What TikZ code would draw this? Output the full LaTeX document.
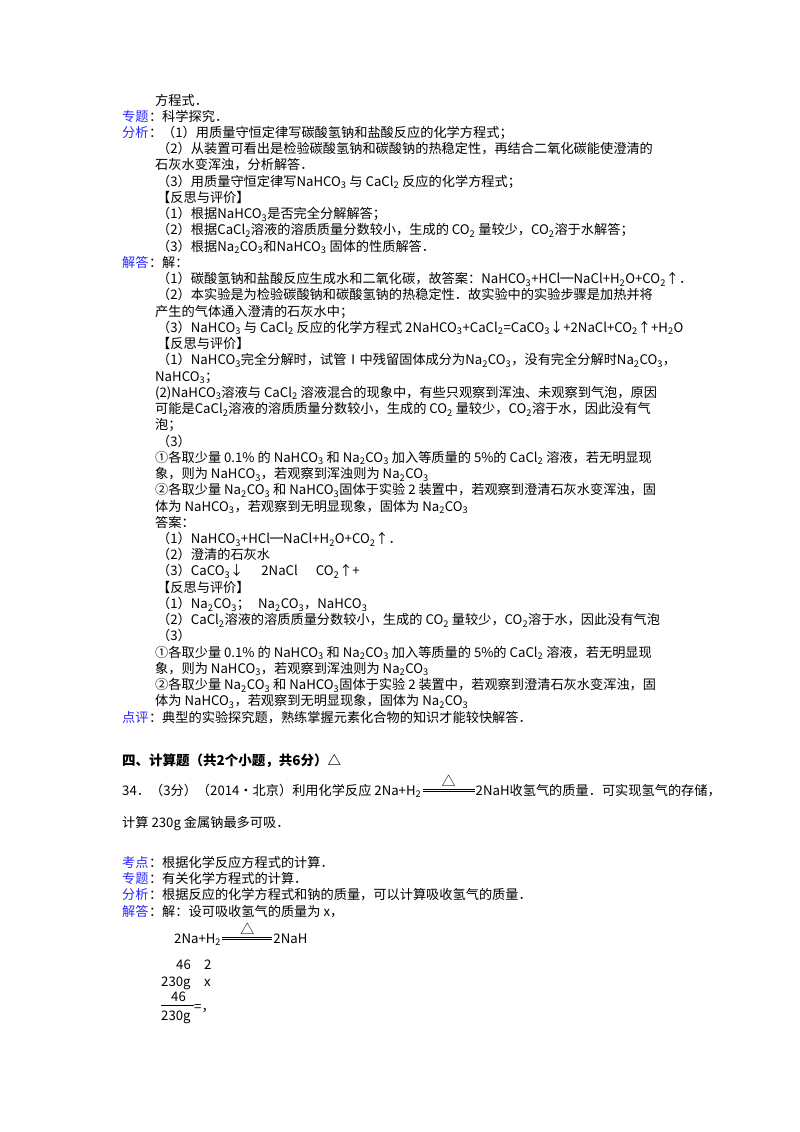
\documentclass[tikz,border=0pt]{standalone}
\usepackage{fontspec}
\usetikzlibrary{calc}
\setmainfont{Noto Sans CJK SC}
\newcommand\s[1]{\textsubscript{#1}}
\definecolor{lab}{RGB}{40,40,255}
\begin{document}
\begin{tikzpicture}[x=1pt,y=-1pt,
  t/.style={anchor=base west,inner sep=0pt,font=\fontsize{13.2}{15}\selectfont},
  lb/.style={t,text=lab},
  eql/.style={line width=0.7pt}]
\useasboundingbox (0,0) rectangle (800,1132);
\def\L#1{\fpeval{101+16.24*#1+4}}
\node[t] (a0) at (155,\L0) {方程式．};
\node[lb] (k1) at (122,\L1) {专题};\node[t] (a1) at (k1.base east) {：科学探究．};
\node[lb] (k2) at (122,\L2) {分析};\node[t] (a2) at (k2.base east) {：（1）用质量守恒定律写碳酸氢钠和盐酸反应的化学方程式；};
\node[t] (a3) at (157,\L3) {（2）从装置可看出是检验碳酸氢钠和碳酸钠的热稳定性，再结合二氧化碳能使澄清的};
\node[t] (a4) at (155,\L4) {石灰水变浑浊，分析解答．};
\node[t] (a5) at (157,\L5) {（3）用质量守恒定律写NaHCO\s3 与 CaCl\s2 反应的化学方程式；};
\node[t] (a6) at (157,\L6) {【反思与评价】};
\node[t] (a7) at (157,\L7) {（1）根据NaHCO\s3是否完全分解解答；};
\node[t] (a8) at (157,\L8) {（2）根据CaCl\s2溶液的溶质质量分数较小，生成的 CO\s2 量较少，CO\s2溶于水解答；};
\node[t] (a9) at (157,\L9) {（3）根据Na\s2CO\s3和NaHCO\s3 固体的性质解答．};
\node[lb] (k10) at (122,\L{10}) {解答};\node[t] (a10) at (k10.base east) {：解：};
\node[t] (a11) at (157,\L{11}) {（1）碳酸氢钠和盐酸反应生成水和二氧化碳，故答案：NaHCO\s3+HCl═NaCl+H\s2O+CO\s2↑．};
\node[t] (a12) at (157,\L{12}) {（2）本实验是为检验碳酸钠和碳酸氢钠的热稳定性．故实验中的实验步骤是加热并将};
\node[t] (a13) at (155,\L{13}) {产生的气体通入澄清的石灰水中；};
\node[t] (a14) at (157,\L{14}) {（3）NaHCO\s3 与 CaCl\s2 反应的化学方程式 2NaHCO\s3+CaCl\s2=CaCO\s3↓+2NaCl+CO\s2↑+H\s2O};
\node[t] (a15) at (157,\L{15}) {【反思与评价】};
\node[t] (a16) at (157,\L{16}) {（1）NaHCO\s3完全分解时，试管Ⅰ中残留固体成分为Na\s2CO\s3，没有完全分解时Na\s2CO\s3，};
\node[t] (a17) at (155,\L{17}) {NaHCO\s3；};
\node[t] (a18) at (155,\L{18}) {(2)NaHCO\s3溶液与 CaCl\s2 溶液混合的现象中，有些只观察到浑浊、未观察到气泡，原因};
\node[t] (a19) at (155,\L{19}) {可能是CaCl\s2溶液的溶质质量分数较小，生成的 CO\s2 量较少，CO\s2溶于水，因此没有气};
\node[t] (a20) at (155,\L{20}) {泡；};
\node[t] (a21) at (157,\L{21}) {（3）};
\node[t] (a22) at (155,\L{22}) {①各取少量 0.1\% 的 NaHCO\s3 和 Na\s2CO\s3 加入等质量的 5\%的 CaCl\s2 溶液，若无明显现};
\node[t] (a23) at (155,\L{23}) {象，则为 NaHCO\s3，若观察到浑浊则为 Na\s2CO\s3};
\node[t] (a24) at (155,\L{24}) {②各取少量 Na\s2CO\s3 和 NaHCO\s3固体于实验 2 装置中，若观察到澄清石灰水变浑浊，固};
\node[t] (a25) at (155,\L{25}) {体为 NaHCO\s3，若观察到无明显现象，固体为 Na\s2CO\s3};
\node[t] (a26) at (155,\L{26}) {答案：};
\node[t] (a27) at (157,\L{27}) {（1）NaHCO\s3+HCl═NaCl+H\s2O+CO\s2↑．};
\node[t] (a28) at (157,\L{28}) {（2）澄清的石灰水};
\node[t] (a29) at (157,\L{29}) {（3）CaCO\s3↓\hspace{18pt}2NaCl\hspace{18pt}CO\s2↑+};
\node[t] (a30) at (157,\L{30}) {【反思与评价】};
\node[t] (a31) at (157,\L{31}) {（1）Na\s2CO\s3；\hspace{8pt}Na\s2CO\s3，NaHCO\s3};
\node[t] (a32) at (157,\L{32}) {（2）CaCl\s2溶液的溶质质量分数较小，生成的 CO\s2 量较少，CO\s2溶于水，因此没有气泡};
\node[t] (a33) at (157,\L{33}) {（3）};
\node[t] (a34) at (155,\L{34}) {①各取少量 0.1\% 的 NaHCO\s3 和 Na\s2CO\s3 加入等质量的 5\%的 CaCl\s2 溶液，若无明显现};
\node[t] (a35) at (155,\L{35}) {象，则为 NaHCO\s3，若观察到浑浊则为 Na\s2CO\s3};
\node[t] (a36) at (155,\L{36}) {②各取少量 Na\s2CO\s3 和 NaHCO\s3固体于实验 2 装置中，若观察到澄清石灰水变浑浊，固};
\node[t] (a37) at (155,\L{37}) {体为 NaHCO\s3，若观察到无明显现象，固体为 Na\s2CO\s3};
\node[lb] (k38) at (122,\L{38}) {点评};\node[t] (a38) at (k38.base east) {：典型的实验探究题，熟练掌握元素化合物的知识才能较快解答．};
% section
\node[t,font=\fontsize{13.5}{15}\selectfont\bfseries] (h) at (122,765) {四、计算题（共2个小题，共6分）△};
\node[t] (q1) at (122,795) {34．（3分）（2014•北京）利用化学反应 2Na+H\s2};
\coordinate (e1) at ([xshift=1pt]q1.base east);
\coordinate (e2) at ([xshift=53pt]q1.base east);
\draw[eql] ([yshift=3.2pt]e1) -- ([yshift=3.2pt]e2) ([yshift=5.8pt]e1) -- ([yshift=5.8pt]e2);
\node[anchor=base,inner sep=0,font=\fontsize{14}{15}\selectfont] (d1) at ($(e1)!0.5!(e2)+(0,-9)$) {△};
\node[t] (q1b) at ([xshift=1pt]e2) {2NaH收氢气的质量．可实现氢气的存储，};
\node[t] (q2) at (122,827) {计算 230g 金属钠最多可吸．};
\node[lb] (m1) at (122,867) {考点};\node[t] (b1) at (m1.base east) {：根据化学反应方程式的计算．};
\node[lb] (m2) at (122,883) {专题};\node[t] (b2) at (m2.base east) {：有关化学方程式的计算．};
\node[lb] (m3) at (122,899) {分析};\node[t] (b3) at (m3.base east) {：根据反应的化学方程式和钠的质量，可以计算吸收氢气的质量．};
\node[lb] (m4) at (122,916) {解答};\node[t] (b4) at (m4.base east) {：解：设可吸收氢气的质量为 x，};
\node[t] (r1) at (174,943) {2Na+H\s2};
\coordinate (f1) at ([xshift=1pt]r1.base east);
\coordinate (f2) at ([xshift=51pt]r1.base east);
\draw[eql] ([yshift=3.2pt]f1) -- ([yshift=3.2pt]f2) ([yshift=5.8pt]f1) -- ([yshift=5.8pt]f2);
\node[anchor=base,inner sep=0,font=\fontsize{14}{15}\selectfont] (d2) at ($(f1)!0.5!(f2)+(0,-9)$) {△};
\node[t] (r1b) at ([xshift=1pt]f2) {2NaH};
\node[t] (r2) at (176,969) {46};\node[t] (r2b) at (204,969) {2};
\node[t] (r3) at (161,986) {230g};\node[t] (r3b) at (204,986) {x};
\node[t] (r4) at (171,1001) {46};
\draw[line width=0.5pt] (161,1005) -- (194,1005);
\node[t] (r5) at (161,1020) {230g};
\node[t] (r6) at (194,1011) {=，};
\end{tikzpicture}
\end{document}
